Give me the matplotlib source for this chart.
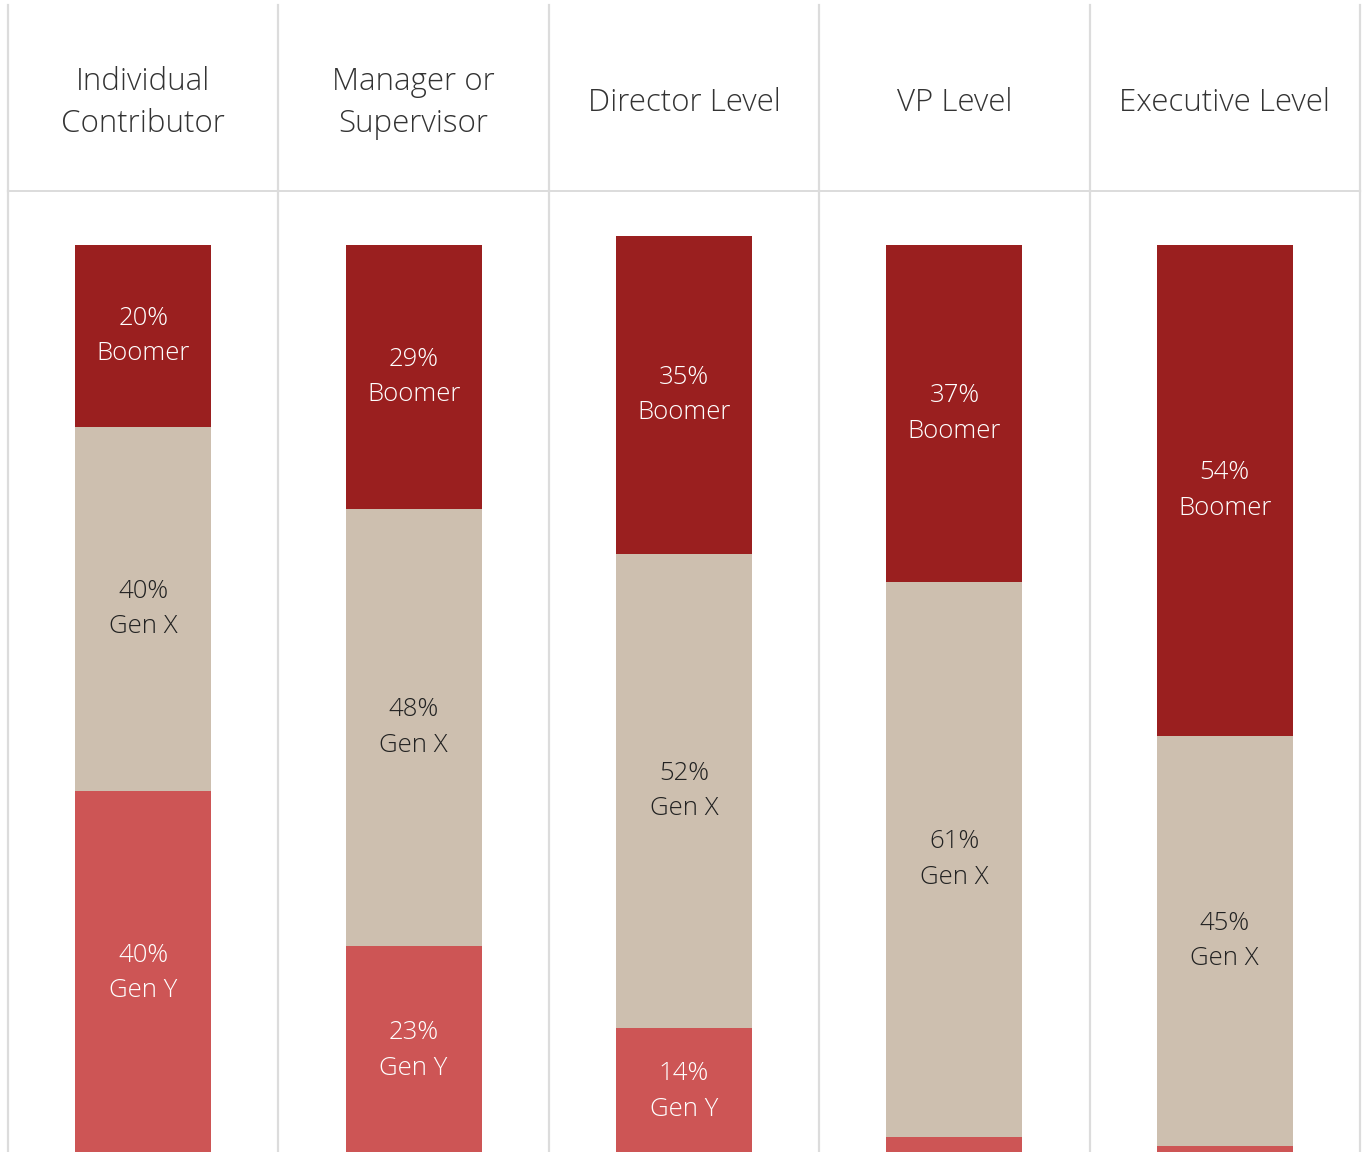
import numpy as np
import matplotlib.pyplot as plt

levels = ['Individual\nContributor', 'Manager or\nSupervisor', 'Director Level',
          'VP Level', 'Executive Level']
gen_y = [40, 23, 14, 2, 1]
gen_x = [40, 48, 52, 61, 45]
boomer = [20, 29, 35, 37, 54]

col_boomer = '#9a1f1f'
col_genx = '#cdbfaf'
col_geny = '#cd5555'
grid_col = '#dcdcdc'

plt.rcParams['font.family'] = ['Open Sans', 'DejaVu Sans']

W, H = 1362, 1152
fig = plt.figure(figsize=(W / 100, H / 100), dpi=100)
fig.patch.set_facecolor('white')

left, right = 8 / W, 1360 / W
head_bot = (H - 191) / H
head_top = (H - 5) / H

# header row with level names
axh = fig.add_axes([left, head_bot, right - left, head_top - head_bot])
axh.set_xlim(-0.5, 4.5)
axh.set_ylim(0, 1)
axh.axis('off')
for i, name in enumerate(levels):
    axh.text(i, 0.475, name, ha='center', va='center', fontsize=22.5,
             color='#333333', fontweight='light', linespacing=1.42)
for xv in np.arange(-0.5, 5, 1):
    axh.axvline(xv, color=grid_col, lw=1.6, clip_on=False)
axh.axhline(0, color=grid_col, lw=1.4, clip_on=False)

# stacked bars, bottoms run just past the lower edge
ax = fig.add_axes([left, 0, right - left, head_bot])
ax.set_xlim(-0.5, 4.5)
ax.set_ylim(0.33, 105.93)
ax.axis('off')
for xv in np.arange(-0.5, 5, 1):
    ax.axvline(xv, color=grid_col, lw=1.6, clip_on=False)

x = np.arange(len(levels))
gy = np.array(gen_y)
gx = np.array(gen_x)
bm = np.array(boomer)
ax.bar(x, gy, width=0.503, color=col_geny)
ax.bar(x, gx, bottom=gy, width=0.503, color=col_genx)
ax.bar(x, bm, bottom=gy + gx, width=0.503, color=col_boomer)

segments = [(gy, np.zeros(5), 'Gen Y', 'white'),
            (gx, gy, 'Gen X', '#222222'),
            (bm, gy + gx, 'Boomer', 'white')]
for vals, base, lab, tc in segments:
    for i in range(len(levels)):
        if vals[i] < 5:
            continue
        ax.text(x[i], base[i] + vals[i] / 2, f'{vals[i]}%\n{lab}', ha='center',
                va='center', fontsize=18.5, color=tc, fontweight='light',
                linespacing=1.56)

fig.savefig('out.png', dpi=100)
